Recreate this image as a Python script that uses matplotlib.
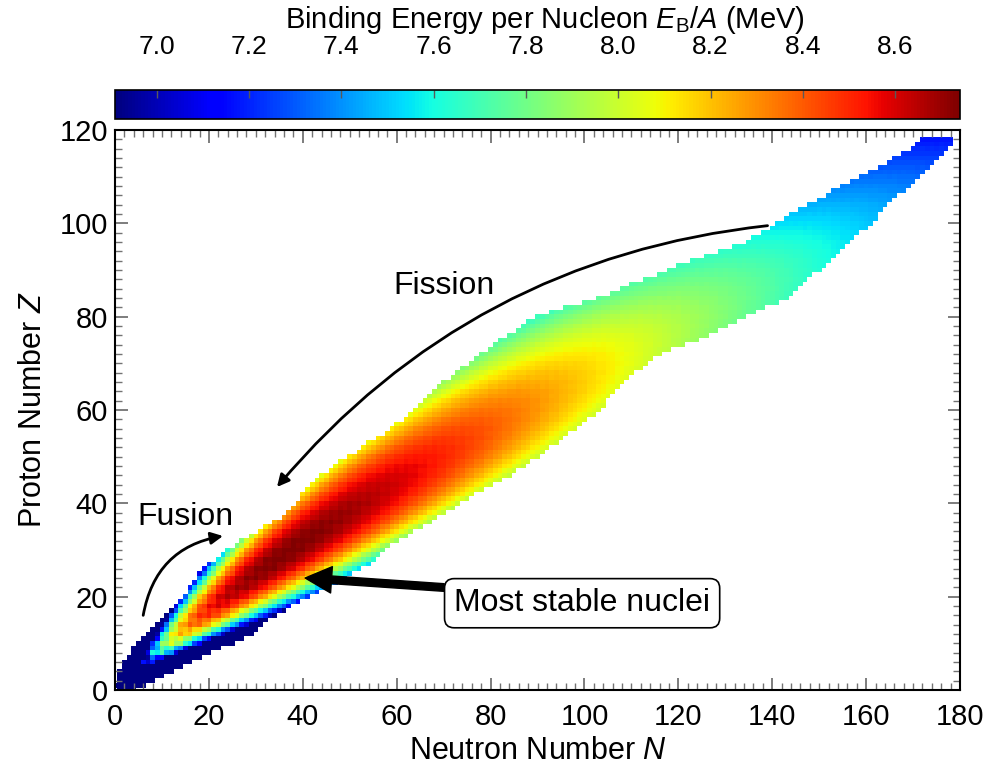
import numpy as np
import matplotlib
matplotlib.use("Agg")
import matplotlib.pyplot as plt
from matplotlib.ticker import MultipleLocator

plt.rcParams['font.family'] = ['Liberation Sans', 'DejaVu Sans']
plt.rcParams['mathtext.fontset'] = 'custom'
plt.rcParams['mathtext.rm'] = 'Liberation Sans'
plt.rcParams['mathtext.it'] = 'Liberation Sans:italic'

# edges of the band of known nuclei (N range per Z)
z_edge = [0, 2, 4, 6, 8, 10, 12, 14, 16, 18, 20, 22, 24, 26, 28, 30, 32, 34, 36, 38,
          40, 44, 48, 52, 56, 60, 64, 68, 72, 76, 80, 84, 88, 92, 96, 100, 104, 108, 112, 116, 118]
n_low = [0, 1, 1, 2, 4, 5, 7, 9, 11, 13, 15, 16, 18, 19, 22, 24, 27, 31, 34, 37,
         39, 42, 47, 53, 59, 64, 68, 73, 78, 84, 90, 103, 113, 123, 135, 141, 148, 155, 163, 170, 172]
n_high = [4, 8, 12, 16, 20, 25, 29, 31, 34, 37, 41, 45, 49, 52, 55, 57, 60, 63, 67, 70,
          73, 80, 87, 92, 98, 103, 106, 110, 116, 126, 134, 143, 147, 152, 156, 161, 164, 169, 173, 177, 178]

# liquid drop coefficients (MeV), tuned so the colours match the picture
a_vol, a_surf, a_coul, a_asym, a_pair = 15.9, 18.9, 0.705, 23.2, 12.0

cbar_ticks = [7.0, 7.2, 7.4, 7.6, 7.8, 8.0, 8.2, 8.4, 8.6]
e_min, e_max = 6.91, 8.74

# build the grid
N = np.arange(0, 181)
Z = np.arange(0, 121)
NN, ZZ = np.meshgrid(N, Z)
A = (NN + ZZ).astype(float)
A[A == 0] = np.nan
pair = np.where((ZZ % 2 == 0) & (NN % 2 == 0), 1.0,
                np.where((ZZ % 2 == 1) & (NN % 2 == 1), -1.0, 0.0))
B = (a_vol * A - a_surf * A**(2/3) - a_coul * ZZ * (ZZ - 1) / A**(1/3)
     - a_asym * (NN - ZZ)**2 / A + pair * a_pair / np.sqrt(A))
BA = B / A

keep = np.zeros_like(BA, dtype=bool)
for z in range(0, 119):
    lo = int(round(np.interp(z, z_edge, n_low)))
    hi = int(round(np.interp(z, z_edge, n_high)))
    keep[z, lo:hi + 1] = True
keep &= ~np.isnan(BA)
data = np.ma.masked_where(~keep, BA)

fig = plt.figure(figsize=(9.89, 7.72), dpi=100)
ax = fig.add_axes([0.1163, 0.1062, 0.8544, 0.7254])
cax = fig.add_axes([0.1163, 0.8458, 0.8544, 0.0376])

mesh = ax.pcolormesh(np.arange(-0.5, 181.5), np.arange(-0.5, 121.5), data,
                     cmap='jet', vmin=e_min, vmax=e_max)
ax.set_xlim(0, 180)
ax.set_ylim(0, 120)
ax.set_xlabel('Neutron Number $N$', fontsize=22, labelpad=4)
ax.set_ylabel('Proton Number $Z$', fontsize=22, labelpad=8)
ax.xaxis.set_major_locator(MultipleLocator(20))
ax.yaxis.set_major_locator(MultipleLocator(20))
ax.xaxis.set_minor_locator(MultipleLocator(2))
ax.yaxis.set_minor_locator(MultipleLocator(2))
ax.tick_params(which='both', direction='in', top=True, right=True, color='0.45', labelsize=21)
ax.tick_params(which='major', length=9, width=1.3)
ax.tick_params(which='minor', length=5, width=1.0)
ax.tick_params(axis='x', which='major', pad=9)
ax.tick_params(axis='y', which='major', pad=5)
for s in ax.spines.values():
    s.set_linewidth(1.5)

cb = fig.colorbar(mesh, cax=cax, orientation='horizontal')
cb.set_ticks(cbar_ticks)
cb.set_ticklabels(['%.1f' % t for t in cbar_ticks])
cax.xaxis.set_ticks_position('top')
cax.tick_params(direction='in', length=6, width=1.0, color='0.35', labelsize=19, pad=22)
cb.outline.set_linewidth(1.2)
fig.text(0.551, 1 - 28 / 772, 'Binding Energy per Nucleon $E_\\mathrm{B}/A$ (MeV)',
         ha='center', va='baseline', fontsize=21)

# annotations
ax.annotate('', xy=(34.5, 43.5), xytext=(139, 99.5),
            arrowprops=dict(arrowstyle='-|>', color='k', lw=2, mutation_scale=18,
                            connectionstyle='arc3,rad=0.2', shrinkA=0, shrinkB=0))
ax.text(70, 86.5, 'Fission', ha='center', va='center', fontsize=23)
ax.annotate('', xy=(23, 33), xytext=(6, 16),
            arrowprops=dict(arrowstyle='-|>', color='k', lw=2, mutation_scale=18,
                            connectionstyle='arc3,rad=-0.35', shrinkA=0, shrinkB=0))
ax.text(15, 37, 'Fusion', ha='center', va='center', fontsize=23)
ax.annotate('Most stable nuclei', xy=(40.5, 24), xytext=(99.5, 18.6),
            ha='center', va='center', fontsize=23,
            bbox=dict(boxstyle='round,pad=0.3', fc='white', ec='k', lw=1.2),
            arrowprops=dict(facecolor='k', edgecolor='k', width=5.5, headwidth=19,
                            headlength=19, shrink=0))

fig.savefig('out.png', dpi=100)
